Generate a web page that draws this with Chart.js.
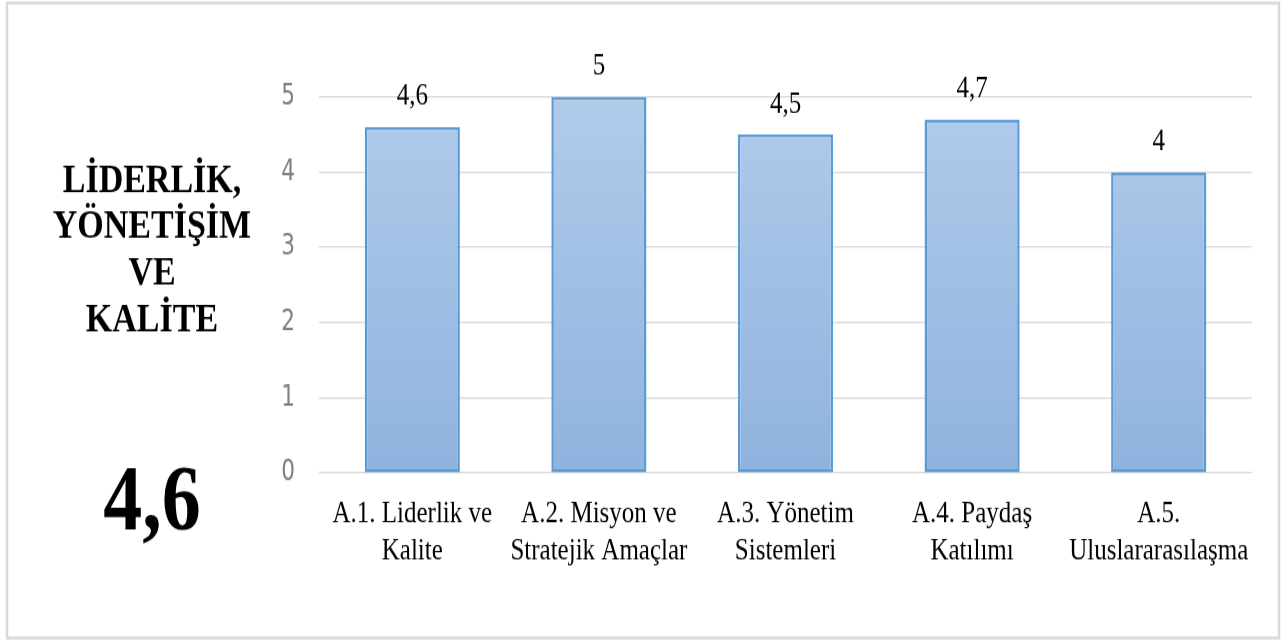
<!DOCTYPE html>
<html>
<head>
<meta charset="utf-8">
<script src="https://cdn.jsdelivr.net/npm/chart.js@4/dist/chart.umd.min.js"></script>
<style>
  html, body { margin: 0; padding: 0; background: #fff; overflow: hidden; }
</style>
</head>
<body>
<canvas id="chart" width="1285" height="534" style="display:block;width:1285px;height:641px"></canvas>
<script>
// the source picture is stretched vertically, so the canvas is drawn short and scaled up by css
const categories = [
  ['A.1. Liderlik ve', 'Kalite'],
  ['A.2. Misyon ve', 'Stratejik Amaçlar'],
  ['A.3. Yönetim', 'Sistemleri'],
  ['A.4. Paydaş', 'Katılımı'],
  ['A.5.', 'Uluslararasılaşma']
]
const scores = [4.6, 5, 4.5, 4.7, 4]
const titleLines = ['LİDERLİK,', 'YÖNETİŞİM', 'VE', 'KALİTE']
const overallScore = '4,6'
const yMin = 0
const yMax = 5

const serif = '"Liberation Serif", "Times New Roman", serif'

const framePlugin = {
  id: 'frame',
  beforeDraw(chart) {
    const ctx = chart.ctx
    ctx.save()
    ctx.fillStyle = '#ffffff'
    ctx.fillRect(0, 0, chart.width, chart.height)
    ctx.strokeStyle = '#d9d9d9'
    ctx.lineWidth = 2.5
    ctx.strokeRect(7, 2.5, 1272, 529)
    ctx.restore()
  },
  afterDraw(chart) {
    const ctx = chart.ctx
    ctx.save()
    ctx.fillStyle = '#000'
    ctx.textAlign = 'center'
    ctx.textBaseline = 'middle'
    ctx.font = 'bold 34px ' + serif
    titleLines.forEach((t, i) => {
      ctx.fillText(t, 152, 151 + i * 38.6)
    })
    ctx.font = 'bold 78px ' + serif
    ctx.fillText(overallScore, 152, 421)

    // value labels over the bars
    ctx.font = '25px ' + serif
    const meta = chart.getDatasetMeta(0)
    meta.data.forEach((bar, i) => {
      ctx.fillText(String(scores[i]).replace('.', ','), bar.x, bar.y - 25)
    })
    ctx.restore()
  }
}

const ctx = document.getElementById('chart').getContext('2d')

new Chart(ctx, {
  type: 'bar',
  data: {
    labels: categories,
    datasets: [{
      data: scores,
      backgroundColor: (c) => {
        const area = c.chart.chartArea
        if (!area) return '#a3c0e5'
        const g = c.chart.ctx.createLinearGradient(0, area.top, 0, area.bottom)
        g.addColorStop(0, '#b1cbea')
        g.addColorStop(1, '#8fb3df')
        return g
      },
      borderColor: '#5b9bd5',
      borderWidth: 2.5,
      borderSkipped: false,
      barPercentage: 0.51,
      categoryPercentage: 1
    }]
  },
  options: {
    responsive: false,
    animation: false,
    devicePixelRatio: 1,
    layout: {
      padding: { top: 80.8, right: 33, bottom: 47.5, left: 0 }
    },
    plugins: {
      legend: { display: false },
      tooltip: { enabled: false }
    },
    scales: {
      x: {
        grid: { display: false },
        border: { display: false },
        ticks: {
          color: '#000',
          padding: 11.5,
          maxRotation: 0,
          autoSkip: false,
          font: { family: serif, size: 25, lineHeight: 1.23 }
        }
      },
      y: {
        min: yMin,
        max: yMax,
        afterFit: (scale) => { scale.width = 319 },
        grid: { color: '#d9d9d9', lineWidth: 1.2, drawTicks: false },
        border: { display: false },
        ticks: {
          stepSize: 1,
          padding: 24,
          color: '#808080',
          font: { family: '"Liberation Sans Narrow", "DejaVu Sans Condensed", "Liberation Sans", sans-serif', size: 24 }
        }
      }
    }
  },
  plugins: [framePlugin]
})
</script>
</body>
</html>
